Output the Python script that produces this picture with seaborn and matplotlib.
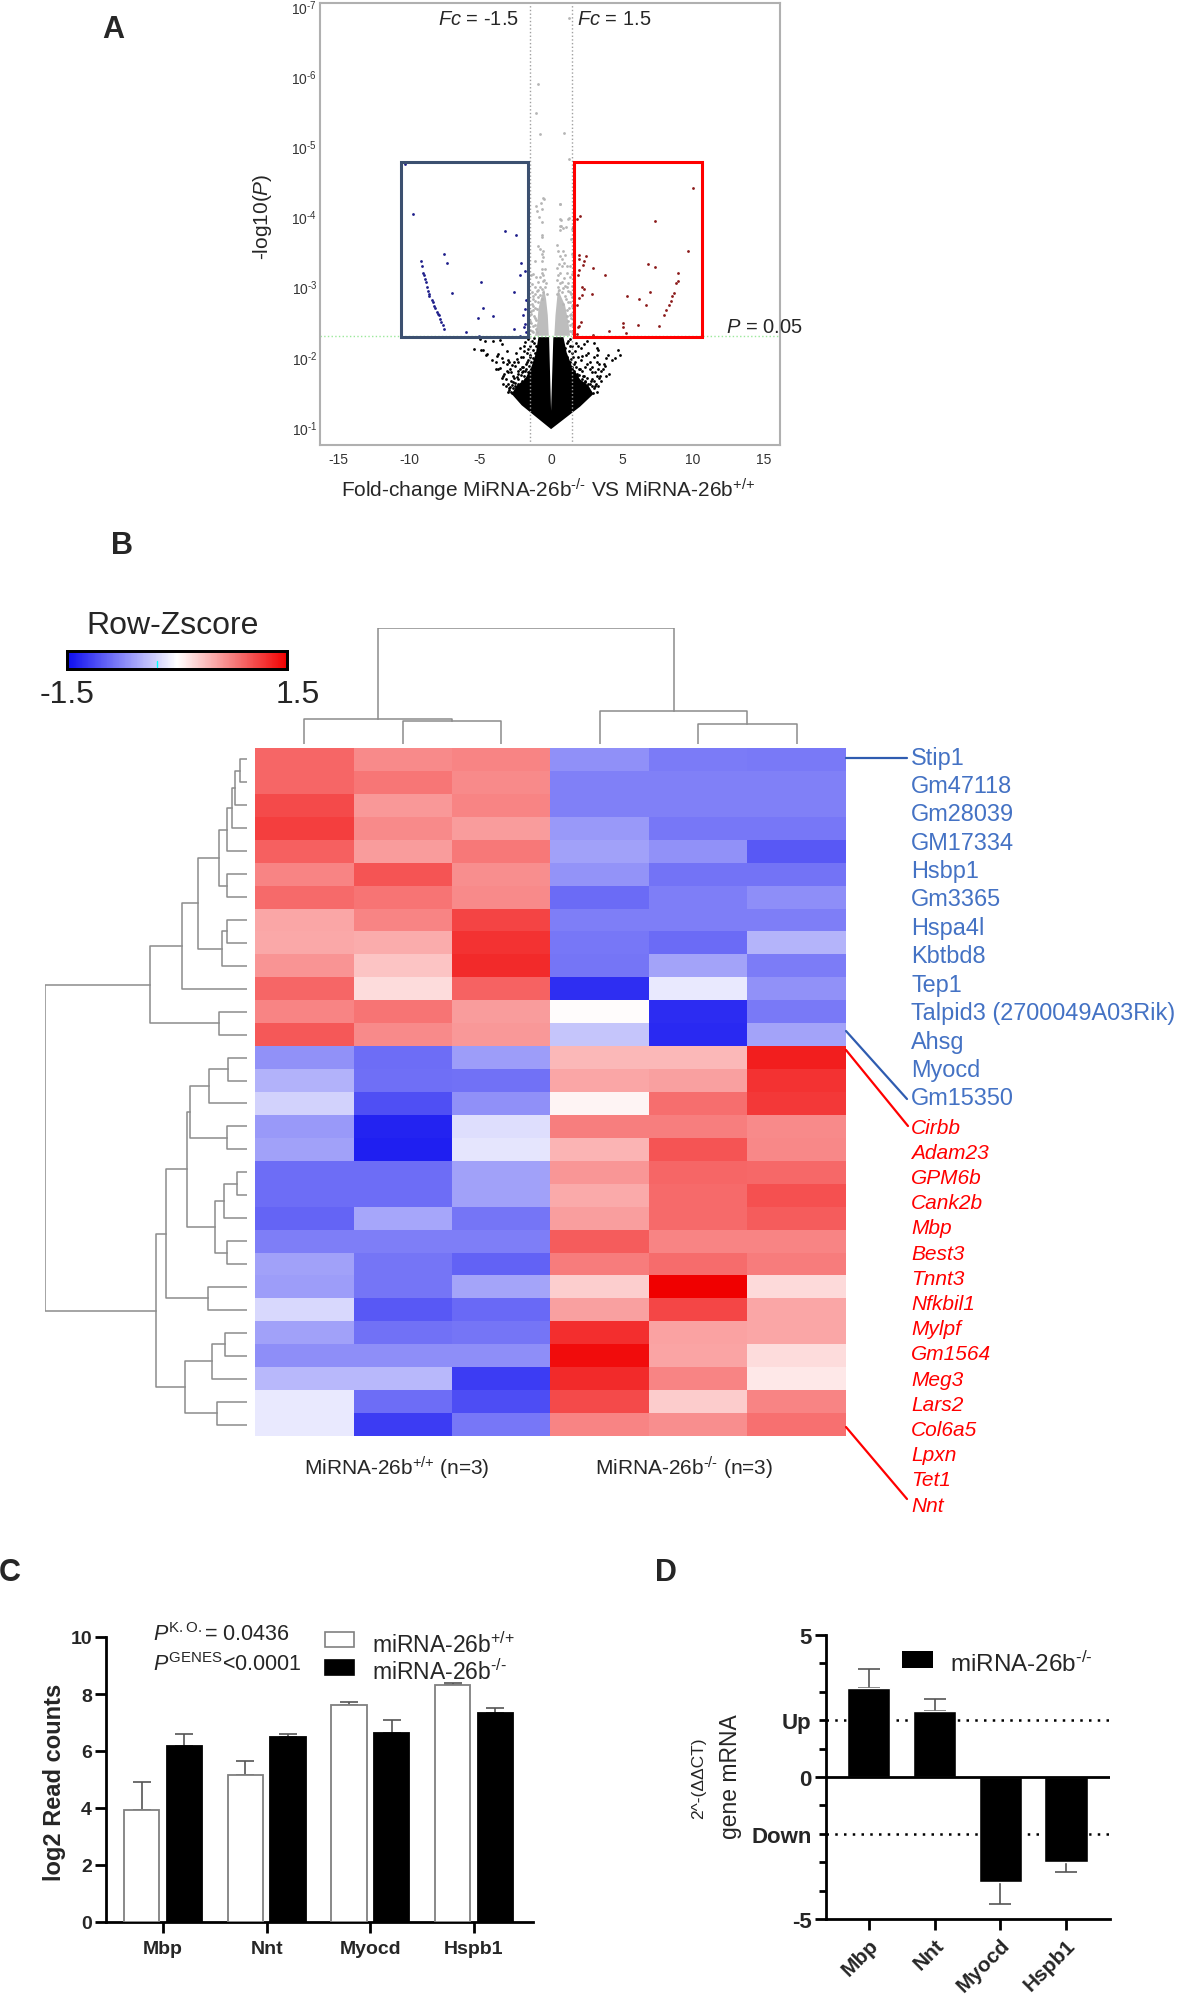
import numpy as np
import pandas as pd
import matplotlib
matplotlib.use('Agg')
import matplotlib.pyplot as plt
from matplotlib.patches import Rectangle
from matplotlib.colors import LinearSegmentedColormap
import seaborn as sns

# panel A: values (fold change, -log10 P)
blue_fc = [-10.27, -9.73, -3.26, -2.45, -9.19, -9.08, -9.03, -8.98, -8.87, -8.81, -8.73, -8.65, -8.57, -8.57, -8.38, -8.33,
           -8.22, -8.17, -8.06, -7.95, -7.90, -7.82, -7.74, -7.63, -7.52, -7.52, -7.36, -2.10, -2.21, -1.81, -4.91, -6.95,
           -2.59, -4.82, -1.75, -1.86, -4.07, -5.12, -1.97, -1.86, -1.91, -2.61, -5.98, -5.07, -1.75, -2.16]
blue_nl = [4.74, 4.04, 3.79, 3.74, 3.37, 3.30, 3.20, 3.17, 3.11, 3.06, 3.00, 2.94, 2.90, 2.87, 2.81, 2.78,
           2.73, 2.70, 2.64, 2.61, 2.59, 2.54, 2.49, 2.45, 2.40, 3.47, 3.34, 3.34, 3.16, 3.22, 3.07, 2.91,
           2.93, 2.69, 2.81, 2.68, 2.58, 2.56, 2.59, 2.47, 2.42, 2.40, 2.35, 2.29, 2.35, 2.30]
red_fc = [10.0, 2.05, 1.86, 7.33, 1.54, 9.62, 1.94, 2.48, 2.35, 2.24, 1.97, 6.85, 7.33, 2.94, 1.59, 1.97, 1.89, 3.83, 8.95, 8.95,
          8.79, 2.16, 2.35, 6.98, 8.63, 8.54, 8.41, 2.21, 2.88, 5.36, 6.20, 6.66, 1.97, 1.81, 1.59, 8.27, 8.09, 7.95, 1.59, 2.08,
          1.89, 1.99, 5.09, 5.09, 6.12, 7.63, 5.26, 4.10, 2.96, 1.81]
red_nl = [4.40, 4.00, 3.96, 3.94, 3.85, 3.51, 3.45, 3.43, 3.37, 3.31, 3.39, 3.32, 3.28, 3.26, 3.30, 3.23, 3.16, 3.16, 3.20, 3.08,
          3.05, 2.99, 2.97, 2.92, 2.91, 2.87, 2.80, 2.88, 2.89, 2.87, 2.82, 2.74, 2.84, 2.74, 2.70, 2.74, 2.67, 2.60, 2.51, 2.50,
          2.42, 2.44, 2.48, 2.42, 2.45, 2.44, 2.34, 2.37, 2.31, 2.33]
gray_fc = [-.54, -.73, -1.06, -.99, -.66, -.87, -.66, -.61, -.66, -.89, -.77, -.54, -.66, -.54, -.61, -1.13, -.61, -.66, -.54, -.77,
           -1.06, -1.24, -1.41, -.54, -.89, -1.36, -1.13, -.66, -1.01, -.54, -1.36, -1.24, -.77, -.66, -1.13, -.89, -1.36, -1.01,
           -1.24, -1.43, -1.13, -1.48, -1.24, -1.36, -1.06,
           .63, .68, 1.20, .68, .63, .87, 1.46, 1.43, .45, .52, .87, .63, .99, 1.46, .75, .59, .92, 1.34, .40, 1.10, .52, 1.46,
           1.34, .75, .99, .52, 1.46, 1.22, .75, .40, .99, 1.46, 1.22, .87, 1.46, 1.10, 1.38, 1.22, 1.46, 1.34,
           -.94, -1.05, -.75, .94, 1.29, 1.29, -.49, .65, 1.24, .65, .65, 1.02,
           -.5, -.45, -.75, -.9, -1.15, -1.3, -.95, -1.1, -1.3, -1.2, -1.05, -1.4, -1.25, -1.15, -1.45, -1.0, -.45, -.35, -.3, -1.4,
           .45, .6, .85, .65, .9, 1.1, 1.3, 1.05, 1.25, 1.35, 1.1, 1.4, 1.35, 1.45, .8, 1.1, 1.3, .55, 1.42, 1.2]
gray_nl = [4.26, 4.19, 4.15, 4.08, 4.11, 3.99, 3.92, 3.73, 3.70, 3.58, 3.54, 3.51, 3.46, 3.42, 3.37, 3.36, 3.25, 3.20, 3.16, 3.13,
           3.14, 3.18, 3.16, 3.08, 3.06, 3.04, 2.99, 2.97, 2.94, 2.92, 2.92, 2.87, 2.88, 2.82, 2.80, 2.78, 2.75, 2.68,
           2.66, 2.61, 2.56, 2.51, 2.44, 2.37, 2.40,
           4.18, 3.95, 3.97, 3.86, 3.81, 3.84, 3.82, 3.68, 3.59, 3.51, 3.51, 3.44, 3.45, 3.46, 3.39, 3.32, 3.34, 3.30, 3.27, 3.20, 3.16, 3.18,
           3.13, 3.06, 3.01, 3.00, 3.01, 2.94, 2.92, 2.89, 2.87, 2.85, 2.78, 2.75, 2.73, 2.66, 2.61, 2.51, 2.47, 2.37,
           5.89, 5.47, 5.17, 5.19, 6.82, 4.82, 4.25, 4.18, 3.98, 3.96, 3.86, 3.85,
           3.1, 3.25, 3.0, 2.95, 2.9, 2.82, 2.85, 2.7, 2.72, 2.58, 2.52, 2.48, 2.35, 2.45, 2.38, 2.36, 3.0, 3.05, 2.9, 2.65,
           3.1, 3.05, 2.98, 3.2, 3.12, 3.0, 2.92, 2.82, 2.7, 2.78, 2.58, 2.55, 2.45, 2.35, 3.3, 3.3, 2.6, 2.95, 2.9, 3.05]
black_fc = [-5.42, -4.95, -4.77, -4.48, -4.60, -3.76, -3.83, -4.13, -3.47, -3.36, -3.90, -3.59, -3.90, -3.71, -2.93, -3.08, -2.77,
            -3.12, -3.29, -3.47, -3.36, -3.00, -2.89, -2.42, -2.54, -2.30, -2.07, -2.65, -2.42, -2.07, -2.65, -2.89, -2.96, -2.54,
            -2.30, -2.77, -2.42, -2.18, -1.83, -1.83, -1.71, -1.95, -1.48, -1.60, -1.83, -1.36, -5.00, -4.65, -4.11, -3.59, -3.47,
            -3.12, -1.90,
            4.69, 4.86, 4.51, 4.04, 3.87, 4.11, 3.69, 3.80, 3.38, 3.22, 3.03, 3.22, 2.75, 2.86, 3.33, 3.45, 2.39, 1.92, 2.16, 2.46,
            2.75, 2.28, 2.04, 2.39, 2.75, 3.10, 2.98, 2.63, 2.28, 1.92, 1.81, 1.69, 1.46, 1.34, 1.22, 1.92, 1.57, 3.22, 2.51, 2.28,
            2.04, 2.51, 2.86, 3.22, 1.69,
            -1.2, -1.05, -1.3, -1.15, -1.45, -1.25, -1.6, -1.4, -1.8, -1.55, -2.0, -1.75, -2.2, -1.95, -1.65, -2.35, -2.15, -1.9, -2.6, -2.3,
            -2.05, -2.8, -2.55, -3.0, -2.75, -3.15, -2.95, -2.65, -3.05, -2.85, -1.7, -2.1, -2.3, -2.6, -2.8, -3.2, -3.4, -2.5, -3.0, -1.5,
            -1.9, -2.2, -1.2, -1.6, -1.1,
            1.1, 1.0, 1.25, 1.15, 1.4, 1.3, 1.6, 1.45, 1.75, 1.6, 1.95, 1.8, 2.2, 2.0, 2.35, 2.15, 2.55, 2.4, 2.8, 2.6,
            3.0, 2.85, 3.15, 3.0, 3.3, 3.2, 2.75, 1.7, 2.1, 2.5, 2.9, 3.1, 3.35, 3.5, 2.6, 1.5, 1.75, 2.1, 1.3, 3.5,
            3.9, 3.7, 4.3, 2.3, 3.0, 3.3]
black_nl = [2.11, 2.10, 2.10, 2.04, 2.03, 2.04, 2.01, 1.96, 1.98, 1.93, 1.92, 1.84, 1.83, 1.83, 1.92, 1.90, 1.88,
            1.80, 1.76, 1.70, 1.73, 1.78, 1.83, 1.97, 1.87, 1.80, 1.78, 1.73, 1.71, 1.85, 1.64, 1.57, 1.53, 1.59,
            1.61, 1.49, 1.49, 1.54, 1.68, 1.80, 1.92, 2.00, 2.02, 2.11, 2.21, 2.23, 2.25, 2.22, 2.22, 2.24, 2.18,
            2.09, 2.09,
            2.10, 2.03, 1.98, 2.03, 1.98, 1.76, 1.83, 1.87, 1.90, 1.92, 2.00, 2.03, 1.83, 1.78, 1.83, 1.73, 1.85, 2.00, 2.01, 2.02,
            1.92, 1.73, 1.83, 1.64, 1.61, 1.59, 1.49, 1.47, 1.42, 1.59, 1.73, 1.92, 2.06, 2.16, 2.23, 2.16, 2.00, 2.13, 2.23, 1.57,
            1.47, 1.54, 1.68, 1.73, 1.42,
            2.2, 2.15, 2.1, 2.05, 2.0, 1.98, 1.95, 1.92, 1.9, 1.87, 1.86, 1.83, 1.82, 1.8, 1.78, 1.76, 1.74, 1.72, 1.7, 1.68,
            1.66, 1.66, 1.63, 1.62, 1.6, 1.58, 1.55, 1.55, 1.5, 1.5, 2.05, 2.0, 1.93, 1.92, 1.78, 1.68, 1.62, 2.05, 1.95, 2.15,
            2.15, 2.12, 2.27, 2.26, 1.95,
            2.2, 2.12, 2.08, 2.0, 1.97, 1.92, 1.9, 1.85, 1.85, 1.8, 1.82, 1.76, 1.8, 1.74, 1.72, 1.68, 1.7, 1.66, 1.66, 1.62,
            1.66, 1.58, 1.62, 1.55, 1.58, 1.5, 1.5, 2.08, 1.95, 1.9, 1.85, 1.78, 1.7, 1.65, 2.05, 2.15, 2.2, 2.12, 2.26, 1.8,
            1.72, 1.9, 1.95, 2.18, 2.2, 2.1]
# outlines of the regions where the points merge into a solid mass
cloud_fc = [0, -2.07, -2.77, -2.42, -1.83, -1.36, -1.06, -0.89, -0.14, 0, 0.16, 0.87, 1.10, 1.46, 2.04, 2.63, 2.98, 2.04]
cloud_nl = [0.97, 1.31, 1.47, 1.59, 1.68, 1.87, 2.06, 2.28, 2.28, 1.23, 2.28, 2.28, 2.06, 1.87, 1.68, 1.59, 1.47, 1.29]
gray_left_fc = [-1.13, -0.96, -0.89, -0.73, -0.49, -0.35, -0.23, -0.16]
gray_left_nl = [2.30, 2.49, 2.68, 2.82, 2.97, 2.82, 2.59, 2.30]
gray_right_fc = [0.23, 0.31, 0.40, 0.49, 0.68, 0.99, 1.22, 1.34]
gray_right_nl = [2.30, 2.59, 2.78, 2.97, 2.87, 2.73, 2.49, 2.30]

# panel B: row z-scores
col_names = ['wt1', 'wt2', 'wt3', 'ko1', 'ko2', 'ko3']
zscores = [
    [.90, .69, .72, -.68, -.82, -.83],
    [.90, .80, .68, -.78, -.78, -.78],
    [1.06, .60, .72, -.78, -.78, -.78],
    [1.13, .68, .58, -.63, -.84, -.84],
    [.93, .58, .79, -.58, -.67, -1.03],
    [.72, 1.00, .66, -.66, -.86, -.86],
    [.87, .82, .68, -.91, -.79, -.70],
    [.52, .72, 1.10, -.79, -.79, -.79],
    [.51, .49, 1.20, -.84, -.91, -.46],
    [.63, .35, 1.25, -.85, -.57, -.80],
    [.90, .21, .92, -1.28, -.14, -.67],
    [.72, .82, .58, .02, -1.30, -.83],
    [.98, .68, .60, -.36, -1.32, -.57],
    [-.67, -.90, -.60, .42, .42, 1.32],
    [-.48, -.89, -.87, .52, .56, 1.20],
    [-.28, -1.08, -.68, .07, .85, 1.17],
    [-.63, -1.35, -.20, .76, .75, .68],
    [-.58, -1.38, -.16, .44, 1.00, .70],
    [-.90, -.90, -.58, .62, .90, .88],
    [-.90, -.90, -.58, .50, .87, 1.03],
    [-.95, -.55, -.85, .57, .87, .96],
    [-.79, -.79, -.79, .96, .72, .72],
    [-.58, -.85, -.97, .77, .86, .77],
    [-.60, -.85, -.56, .29, 1.50, .22],
    [-.24, -1.02, -.92, .56, 1.08, .52],
    [-.58, -.87, -.85, 1.22, .55, .52],
    [-.70, -.70, -.70, 1.42, .53, .20],
    [-.44, -.44, -1.20, 1.25, .72, .13],
    [-.14, -.90, -1.10, 1.06, .30, .72],
    [-.14, -1.20, -.84, .72, .66, .84],
]
# dendrograms as (distance, left, right), leaves are row or column numbers
row_tree = (202,
            (97,
             (65, (49, (28, (20.4, (15, (12, (7, 0, 1), 2), 3), 4), (20, 5, 6)), (25, (20, 7, 8), 9)), 10),
             (28, 11, 12)),
            (91,
             (81,
              (60, (57, (38, (19, 13, 14), 15), (20, 16, 17)), (32, (23, (10, 18, 19), 20), (20, 21, 22))),
              (39, 23, 24)),
             (62, (35, (22, 25, 26), 27), (30, 28, 29))))
col_tree = (116, (24.7, 0, (23, 1, 2)), (33, 3, (19.7, 4, 5)))
up_genes = ['Stip1', 'Gm47118', 'Gm28039', 'GM17334', 'Hsbp1', 'Gm3365', 'Hspa4l', 'Kbtbd8', 'Tep1',
            'Talpid3 (2700049A03Rik)', 'Ahsg', 'Myocd', 'Gm15350']
down_genes = ['Cirbb', 'Adam23', 'GPM6b', 'Cank2b', 'Mbp', 'Best3', 'Tnnt3', 'Nfkbil1', 'Mylpf', 'Gm1564',
              'Meg3', 'Lars2', 'Col6a5', 'Lpxn', 'Tet1', 'Nnt']

# panel C
genes = ['Mbp', 'Nnt', 'Myocd', 'Hspb1']
counts_wt = [3.92, 5.17, 7.62, 8.30]
counts_wt_err = [1.00, 0.48, 0.10, 0.10]
counts_ko = [6.17, 6.50, 6.62, 7.35]
counts_ko_err = [0.43, 0.10, 0.48, 0.15]

# panel D
mrna = [3.15, 2.34, -3.69, -3.00]
mrna_err = [0.66, 0.41, 0.77, 0.36]

W, H = 1181, 1999
sns.set_theme(style='white')
plt.rcParams['font.family'] = ['Liberation Sans', 'DejaVu Sans']
plt.rcParams['mathtext.fontset'] = 'custom'
plt.rcParams['mathtext.rm'] = 'Liberation Sans'
plt.rcParams['mathtext.it'] = 'Liberation Sans:italic'
plt.rcParams['mathtext.bf'] = 'Liberation Sans:bold'
plt.rcParams['axes.unicode_minus'] = False

fig = plt.figure(figsize=(W / 100, H / 100), dpi=100)


def px_axes(left, top, right, bottom):
    return fig.add_axes([left / W, 1 - bottom / H, (right - left) / W, (bottom - top) / H])


# overlay in pixel coordinates for loose labels
over = fig.add_axes([0, 0, 1, 1], zorder=10)
over.set_xlim(0, W)
over.set_ylim(H, 0)
over.axis('off')
over.patch.set_alpha(0)

KO = '$^{\\text{-/-}}$'
WT = '$^{\\text{+/+}}$'

for letter, lx, ly in [('A', 113, 30), ('B', 122, 546), ('C', 10, 1573), ('D', 666, 1573)]:
    over.text(lx, ly, letter, fontsize=22, fontweight='bold', ha='center', va='center')

# ---- A ----
ax = px_axes(320, 4, 780, 446)
ax.set_xlim(-16.27, 16.12)
ax.set_ylim(0.744, 7.04)
ax.fill(cloud_fc, cloud_nl, color='black', lw=0, zorder=1)
ax.fill(gray_left_fc, gray_left_nl, color='#bdbdbd', lw=0, zorder=1)
ax.fill(gray_right_fc, gray_right_nl, color='#bdbdbd', lw=0, zorder=1)
for fc, nl, col in [(black_fc, black_nl, 'black'), (gray_fc, gray_nl, '#b5b5b5'),
                    (blue_fc, blue_nl, '#1d1d8a'), (red_fc, red_nl, '#8b1a1a')]:
    sns.scatterplot(x=fc, y=nl, color=col, s=4, linewidth=0, ax=ax, zorder=2)
ax.axvline(-1.5, color='#a0a0a0', ls=':', lw=1)
ax.axvline(1.5, color='#a0a0a0', ls=':', lw=1)
ax.axhline(2.29, color='#9be89b', ls=':', lw=1)
ax.add_patch(Rectangle((-10.54, 2.276), 8.92, 2.5, fill=False, ec='#3c5070', lw=2.2, zorder=3))
ax.add_patch(Rectangle((1.59, 2.276), 9.06, 2.5, fill=False, ec='#ff0000', lw=2.2, zorder=3))
ax.set_xticks([-15, -10, -5, 0, 5, 10, 15])
ax.set_xticklabels(['-15', '-10', '-5', '0', '5', '10', '15'], fontsize=10, color='#333333')
ax.set_yticks([1, 2, 3, 4, 5, 6, 7])
ax.set_yticklabels(['$10^{\\text{-%d}}$' % k for k in [1, 2, 3, 4, 5, 6, 7]], fontsize=10, color='#333333')
ax.tick_params(length=0, pad=2)
ax.tick_params(axis='x', pad=5)
for s in ax.spines.values():
    s.set_color('#b0b0b0')
    s.set_linewidth(1.5)
over.text(262, 217, '-log10($\\mathit{P}$)', rotation=90, fontsize=15, ha='center', va='center')
over.text(548, 490, 'Fold-change MiRNA-26b' + KO + ' VS MiRNA-26b' + WT, fontsize=15, ha='center', va='center')
over.text(479, 19, '$\\mathit{Fc}$ = -1.5', fontsize=14.5, ha='center', va='center')
over.text(614, 19, '$\\mathit{Fc}$ = 1.5', fontsize=14.5, ha='center', va='center')
over.text(764, 327, '$\\mathit{P}$ = 0.05', fontsize=14.5, ha='center', va='center')

# ---- B ----
ax = px_axes(255, 749, 846, 1437)
cax = px_axes(67, 652, 287, 670)
heat = pd.DataFrame(zscores, columns=col_names)
heat_cmap = LinearSegmentedColormap.from_list('zscore', ['#0c0cf0', '#ffffff', '#f00000'])
sns.heatmap(heat, cmap=heat_cmap, vmin=-1.5, vmax=1.5, ax=ax, cbar_ax=cax, cbar_kws={'orientation': 'horizontal'},
            xticklabels=False, yticklabels=False)
cax.set_xticks([])
cax.collections[0].set_edgecolor('face')
for s in cax.spines.values():
    s.set_visible(True)
    s.set_color('black')
    s.set_linewidth(2)
over.plot([156.5, 156.5], [662, 668], color='cyan', lw=1)
over.text(173, 626, 'Row-Zscore', fontsize=23, ha='center', va='center')
over.text(67, 695, '-1.5', fontsize=23, ha='center', va='center')
over.text(298, 695, '1.5', fontsize=23, ha='center', va='center')


def draw_tree(node, dax, horizontal):
    # returns the leaf position and distance of a node
    if not isinstance(node, tuple):
        return node + 0.5, 0
    dist, a, b = node
    pa, da = draw_tree(a, dax, horizontal)
    pb, db = draw_tree(b, dax, horizontal)
    xs, ys = [pa, pa, pb, pb], [da, dist, dist, db]
    if horizontal:
        dax.plot(ys, xs, color='#8c8c8c', lw=1.1, solid_capstyle='projecting')
    else:
        dax.plot(xs, ys, color='#8c8c8c', lw=1.1, solid_capstyle='projecting')
    return (pa + pb) / 2, dist


row_ax = px_axes(45, 749, 247, 1437)
row_ax.set_xlim(202, 0)
row_ax.set_ylim(len(zscores), 0)
row_ax.axis('off')
draw_tree(row_tree, row_ax, True)
col_ax = px_axes(255, 629, 846, 745)
col_ax.set_xlim(0, len(col_names))
col_ax.set_ylim(0, 116)
col_ax.axis('off')
draw_tree(col_tree, col_ax, False)

over.text(397, 1468, 'MiRNA-26b' + WT + ' (n=3)', fontsize=15, ha='center', va='center')
over.text(684, 1468, 'MiRNA-26b' + KO + ' (n=3)', fontsize=15, ha='center', va='center')

for i, g in enumerate(up_genes):
    over.text(911, 758 + i * 28.4, g, color='#4472c4', fontsize=16.9, ha='left', va='center')
for i, g in enumerate(down_genes):
    over.text(911, 1128 + i * 25.2, g, color='#ff0000', fontsize=15, style='italic', ha='left', va='center')
over.plot([846, 907], [759, 759], color='#2f5cb0', lw=1.6)
over.plot([846, 907], [1032, 1100], color='#2f5cb0', lw=1.6)
over.plot([846, 908], [1051, 1127], color='#ff0000', lw=1.6)
over.plot([846, 907], [1428, 1500], color='#ff0000', lw=1.6)

# ---- C ----
ax = px_axes(106, 1638, 533, 1923)
df_c = pd.DataFrame({'gene': genes * 2,
                     'value': counts_wt + counts_ko,
                     'group': ['wt'] * 4 + ['ko'] * 4})
sns.barplot(data=df_c, x='gene', y='value', hue='group', palette=['white', 'black'], width=0.82, gap=0.17,
            errorbar=None, legend=False, ax=ax, zorder=3)
for p, col in zip(ax.patches, ['#808080'] * 4 + ['black'] * 4):
    p.set_edgecolor(col)
    p.set_linewidth(1.3)
    p.set_zorder(3)
centres = [p.get_x() + p.get_width() / 2 for p in ax.patches[:8]]
ax.errorbar(centres, counts_wt + counts_ko, yerr=[[0] * 8, counts_wt_err + counts_ko_err], fmt='none',
            ecolor='#555555', elinewidth=1.2, capsize=6.5, capthick=1.2, zorder=2)
ax.set_xlim(-0.55, 3.57)
ax.set_ylim(0, 10)
ax.set_yticks([0, 2, 4, 6, 8, 10])
ax.set_xlabel('')
ax.set_ylabel('')
ax.tick_params(axis='both', length=8, width=2, color='black', left=True, bottom=True)
for lab in ax.get_xticklabels() + ax.get_yticklabels():
    lab.set_fontweight('bold')
    lab.set_fontsize(14)
ax.tick_params(axis='x', pad=5)
ax.tick_params(axis='y', pad=2)
sns.despine(ax=ax)
ax.spines['left'].set_linewidth(2)
ax.spines['bottom'].set_linewidth(2)
ax.spines['left'].set_color('black')
ax.spines['bottom'].set_color('black')
over.text(54, 1782, 'log2 Read counts', rotation=90, fontsize=17, fontweight='bold', ha='center', va='center')
over.text(153, 1635, '$\\mathit{P}^{\\mathrm{K.O.}}$= 0.0436', fontsize=15.5, ha='left', va='center')
over.text(153, 1665, '$\\mathit{P}^{\\mathrm{GENES}}$<0.0001', fontsize=15.5, ha='left', va='center')
over.add_patch(Rectangle((324.5, 1633), 29.5, 15, fc='white', ec='#808080', lw=1.2))
over.add_patch(Rectangle((324.5, 1661), 29.5, 15, fc='black', ec='black', lw=1.2))
over.text(372, 1645, 'miRNA-26b' + WT, fontsize=16.5, ha='left', va='center')
over.text(372, 1672, 'miRNA-26b' + KO, fontsize=16.5, ha='left', va='center')

# ---- D ----
ax = px_axes(825.6, 1636, 1110, 1920)
sns.barplot(x=genes, y=mrna, color='black', width=0.66, saturation=1, errorbar=None, ax=ax, zorder=3)
lower = [0 if v > 0 else e for v, e in zip(mrna, mrna_err)]
upper = [e if v > 0 else 0 for v, e in zip(mrna, mrna_err)]
ax.errorbar(range(4), mrna, yerr=[lower, upper], fmt='none', ecolor='#555555', elinewidth=1.2, capsize=8, capthick=1.2, zorder=2)
ax.axhline(0, color='black', lw=2, zorder=4)
ax.axhline(2, color='black', ls=(0, (1, 2.5)), lw=1.8, zorder=1)
ax.axhline(-2, color='black', ls=(0, (1, 2.5)), lw=1.8, zorder=1)
ax.set_xlim(-0.657, 3.67)
ax.set_ylim(-5, 5)
ax.set_yticks([-5, -2, 0, 2, 5])
ax.set_yticklabels(['-5', 'Down', '0', 'Up', '5'], fontweight='bold', fontsize=16)
ax.set_yticks([-4, -3, -1, 1, 3, 4], minor=True)
ax.tick_params(axis='y', which='major', length=8, width=2, left=True, color='black', pad=2)
ax.tick_params(axis='y', which='minor', length=5, width=2, left=True, color='black')
for t, tick in zip([-5, -2, 0, 2, 5], ax.yaxis.get_major_ticks()):
    if abs(t) == 2:
        tick.tick1line.set_markersize(5)
ax.tick_params(axis='x', length=8, width=2, bottom=True, color='black')
ax.set_xticks(range(4))
ax.set_xticklabels(genes, rotation=45, ha='right', rotation_mode='anchor', fontweight='bold', fontsize=15)
sns.despine(ax=ax)
ax.spines['left'].set_linewidth(2)
ax.spines['bottom'].set_linewidth(2)
ax.spines['left'].set_color('black')
ax.spines['bottom'].set_color('black')
over.text(699, 1778, '2^-(\u0394\u0394CT)', rotation=90, fontsize=12.5, ha='center', va='center')
over.text(731, 1777, 'gene mRNA', rotation=90, fontsize=16.5, ha='center', va='center')
over.add_patch(Rectangle((902, 1652), 30.5, 16.5, fc='black', ec='black', lw=0))
over.text(950, 1664, 'miRNA-26b' + KO, fontsize=17.5, ha='left', va='center')

fig.savefig('out.png', dpi=100)
